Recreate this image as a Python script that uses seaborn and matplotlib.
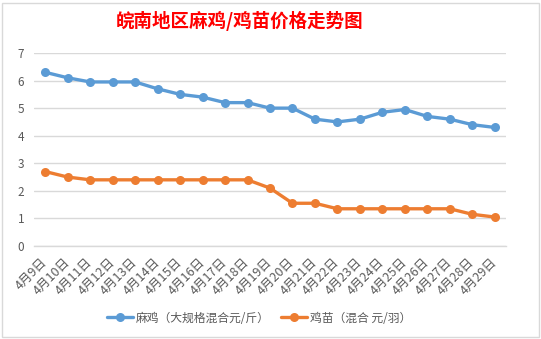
import matplotlib
matplotlib.use("Agg")
import matplotlib.pyplot as plt
import matplotlib.transforms as mtransforms
import seaborn as sns
import pandas as pd
from matplotlib.patches import Rectangle
from matplotlib.lines import Line2D

dates = ["4月9日", "4月10日", "4月11日", "4月12日", "4月13日", "4月14日", "4月15日",
         "4月16日", "4月17日", "4月18日", "4月19日", "4月20日", "4月21日", "4月22日",
         "4月23日", "4月24日", "4月25日", "4月26日", "4月27日", "4月28日", "4月29日"]
mj = [6.3, 6.1, 5.95, 5.95, 5.95, 5.7, 5.5, 5.4, 5.2, 5.2, 5.0, 5.0, 4.6, 4.5,
      4.6, 4.85, 4.95, 4.7, 4.6, 4.4, 4.3]
jm = [2.7, 2.5, 2.4, 2.4, 2.4, 2.4, 2.4, 2.4, 2.4, 2.4, 2.1, 1.55, 1.55, 1.35,
      1.35, 1.35, 1.35, 1.35, 1.35, 1.15, 1.05]
series_names = ["麻鸡（大规格混合元/斤）", "鸡苗（混合 元/羽）"]
title = "皖南地区麻鸡/鸡苗价格走势图"
yticks = [0, 1, 2, 3, 4, 5, 6, 7]
colors = ["#5B9BD5", "#ED7D31"]

sns.set_theme(style="white")
plt.rcParams['font.family'] = ['Noto Sans CJK SC', 'DejaVu Sans']

df = pd.DataFrame({
    "date": dates * 2,
    "price": mj + jm,
    "series": [series_names[0]] * len(dates) + [series_names[1]] * len(dates),
})
df["x"] = list(range(len(dates))) * 2

fig = plt.figure(figsize=(5.41, 3.39), dpi=100)
ax = fig.add_axes([34 / 541, 1 - 246 / 339, (506 - 34) / 541, (246 - 53) / 339])

sns.lineplot(data=df, x="x", y="price", hue="series", palette=colors,
             marker="o", markersize=6.5, markeredgewidth=0, linewidth=2.4,
             sort=False, ax=ax, legend=False)

ax.set_xlim(-0.5, len(dates) - 0.5)
ax.set_ylim(0, 7)
ax.set_yticks(yticks)
ax.set_yticklabels([str(v) for v in yticks], fontsize=8.5, color="#595959")
ax.yaxis.grid(True, color="#D9D9D9", linewidth=1)
ax.set_axisbelow(True)
ax.set_xticks(range(len(dates)))
ax.set_xticklabels(dates, rotation=45, rotation_mode="anchor", ha="right", va="center",
                   fontsize=9, color="#595959")
offset = mtransforms.ScaledTranslation(3 / 100, 0, fig.dpi_scale_trans)
for lbl in ax.get_xticklabels():
    lbl.set_transform(lbl.get_transform() + offset)
ax.set_xticks([i - 0.5 for i in range(len(dates) + 1)], minor=True)
ax.tick_params(axis="x", which="major", length=0, pad=10)
ax.tick_params(axis="x", which="minor", length=4, width=1, color="#D9D9D9", direction="out")
ax.tick_params(axis="y", length=0, pad=7)
ax.set_xlabel("")
ax.set_ylabel("")
for s in ["left", "right", "top"]:
    ax.spines[s].set_visible(False)
ax.spines["bottom"].set_color("#D9D9D9")
ax.spines["bottom"].set_linewidth(1)

fig.text(240 / 541, 1 - 21 / 339, title, color="#FF0000", fontsize=13.3,
         fontweight="bold", ha="center", va="center")

handles = [Line2D([0], [0], color=c, linewidth=2.4, marker="o", markersize=6.5,
                  markeredgewidth=0) for c in colors]
fig.legend(handles, series_names, loc="center", bbox_to_anchor=(259 / 541, 1 - 318 / 339),
           ncol=2, frameon=False, fontsize=8.5, handlelength=2.2, columnspacing=0.9,
           handletextpad=0.3, labelcolor="#595959")

fig.add_artist(Rectangle((2 / 541, 2 / 339), 537 / 541, 334 / 339, transform=fig.transFigure,
                         fill=False, edgecolor="#D9D9D9", linewidth=1))

fig.savefig("out.png", dpi=100)
